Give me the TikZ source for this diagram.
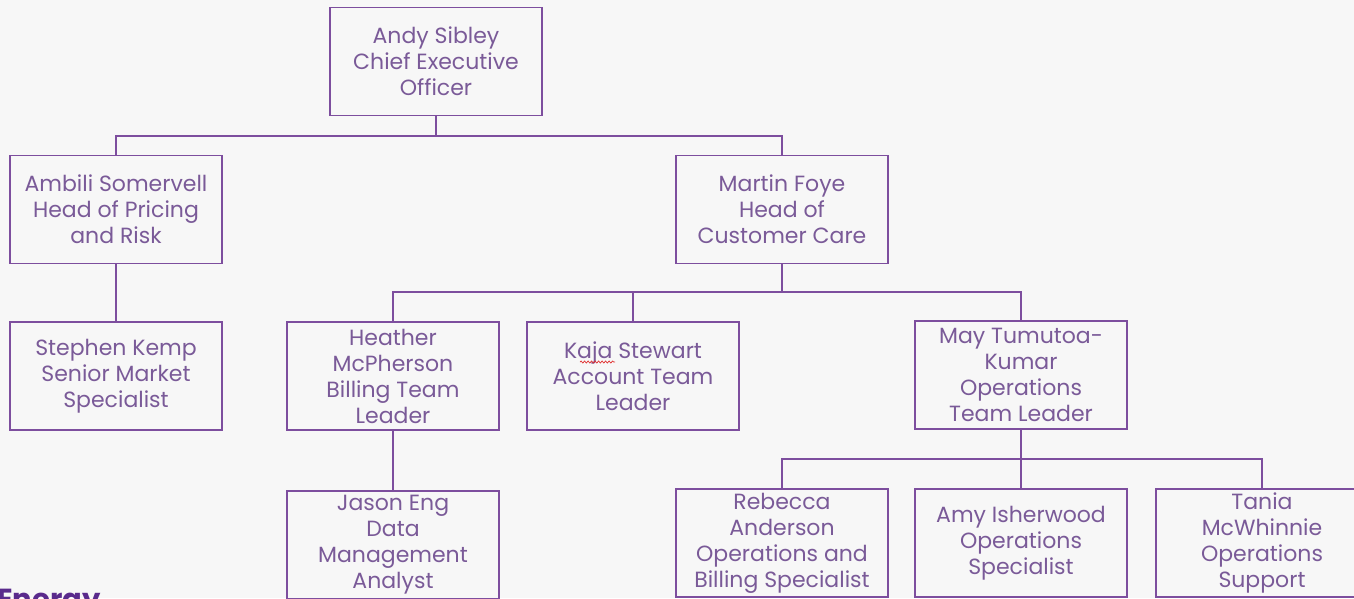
\documentclass[tikz,border=0pt]{standalone}
\usepackage{fontspec}
\setmainfont{Poppins}
\usetikzlibrary{decorations.pathmorphing}
\definecolor{bg}{HTML}{F7F7F7}
\definecolor{ln}{HTML}{7D4E9E}
\definecolor{tx}{HTML}{7A5A98}
\definecolor{brand}{HTML}{5A2A8C}
\definecolor{spell}{HTML}{E03030}
\begin{document}
\begin{tikzpicture}[x=1pt,y=-1pt,
  person/.style={draw=ln, line width=1.5pt, fill=bg, minimum width=212pt,
    minimum height=108pt, inner sep=0pt, align=center, text=tx,
    font=\fontsize{22}{26}\selectfont},
  link/.style={draw=ln, line width=1.5pt}]
\useasboundingbox (0,0) rectangle (1354,598);
\clip (0,0) rectangle (1354,598);
\fill[bg] (0,0) rectangle (1354,598);
% boxes
\node[person] (ceo) at (436,61.5) {Andy Sibley\\Chief Executive\\Officer};
\node[person] (ambili) at (116,209.5) {Ambili Somervell\\Head of Pricing\\and Risk};
\node[person] (martin) at (782,209.5) {Martin Foye\\Head of\\Customer Care};
\node[person] (stephen) at (116,376) {Stephen Kemp\\Senior Market\\Specialist};
\node[person] (heather) at (393,376) {Heather\\McPherson\\Billing Team\\Leader};
\node[person] (kaja) at (633,376) {Kaja Stewart\\Account Team\\Leader};
\node[person] (may) at (1021,375) {May Tumutoa-\\Kumar\\Operations\\Team Leader};
\node[person] (jason) at (393,545) {Jason Eng\\Data\\Management\\Analyst};
\node[person] (rebecca) at (782,543) {Rebecca\\Anderson\\Operations and\\Billing Specialist};
\node[person] (amy) at (1021,543) {Amy Isherwood\\Operations\\Specialist};
\node[person] (tania) at (1262,543) {Tania\\McWhinnie\\Operations\\Support};
% bus coordinates
\coordinate (b0) at (436,136);
\coordinate (b1) at (782,292);
\coordinate (b2) at (1021,459);
% connectors
\draw[link] (ceo.south) -- (b0);
\draw[link] (b0) -| (ambili.north);
\draw[link] (b0) -| (martin.north);
\draw[link] (ambili.south) -- (stephen.north);
\draw[link] (martin.south) -- (b1);
\draw[link] (b1) -| (heather.north);
\draw[link] (b1) -| (kaja.north);
\draw[link] (b1) -| (may.north);
\draw[link] (heather.south) -- (jason.north);
\draw[link] (may.south) -- (b2);
\draw[link] (b2) -| (rebecca.north);
\draw[link] (b2) -| (amy.north);
\draw[link] (b2) -| (tania.north);
% spell-check squiggle under "Kaja"
\coordinate (sq1) at (580,362);
\coordinate (sq2) at (615,362);
\draw[spell, line width=0.7pt, decorate, decoration={snake, amplitude=1pt, segment length=3.5pt}] (sq1) -- (sq2);
% brand text, partly visible (cut by the picture's lower edge, as in the reference)
\node[anchor=north west, inner sep=0pt, text=brand, font=\fontsize{29}{29}\selectfont\bfseries] (brandtxt) at (-3,589) {Energy};
\end{tikzpicture}
\end{document}
